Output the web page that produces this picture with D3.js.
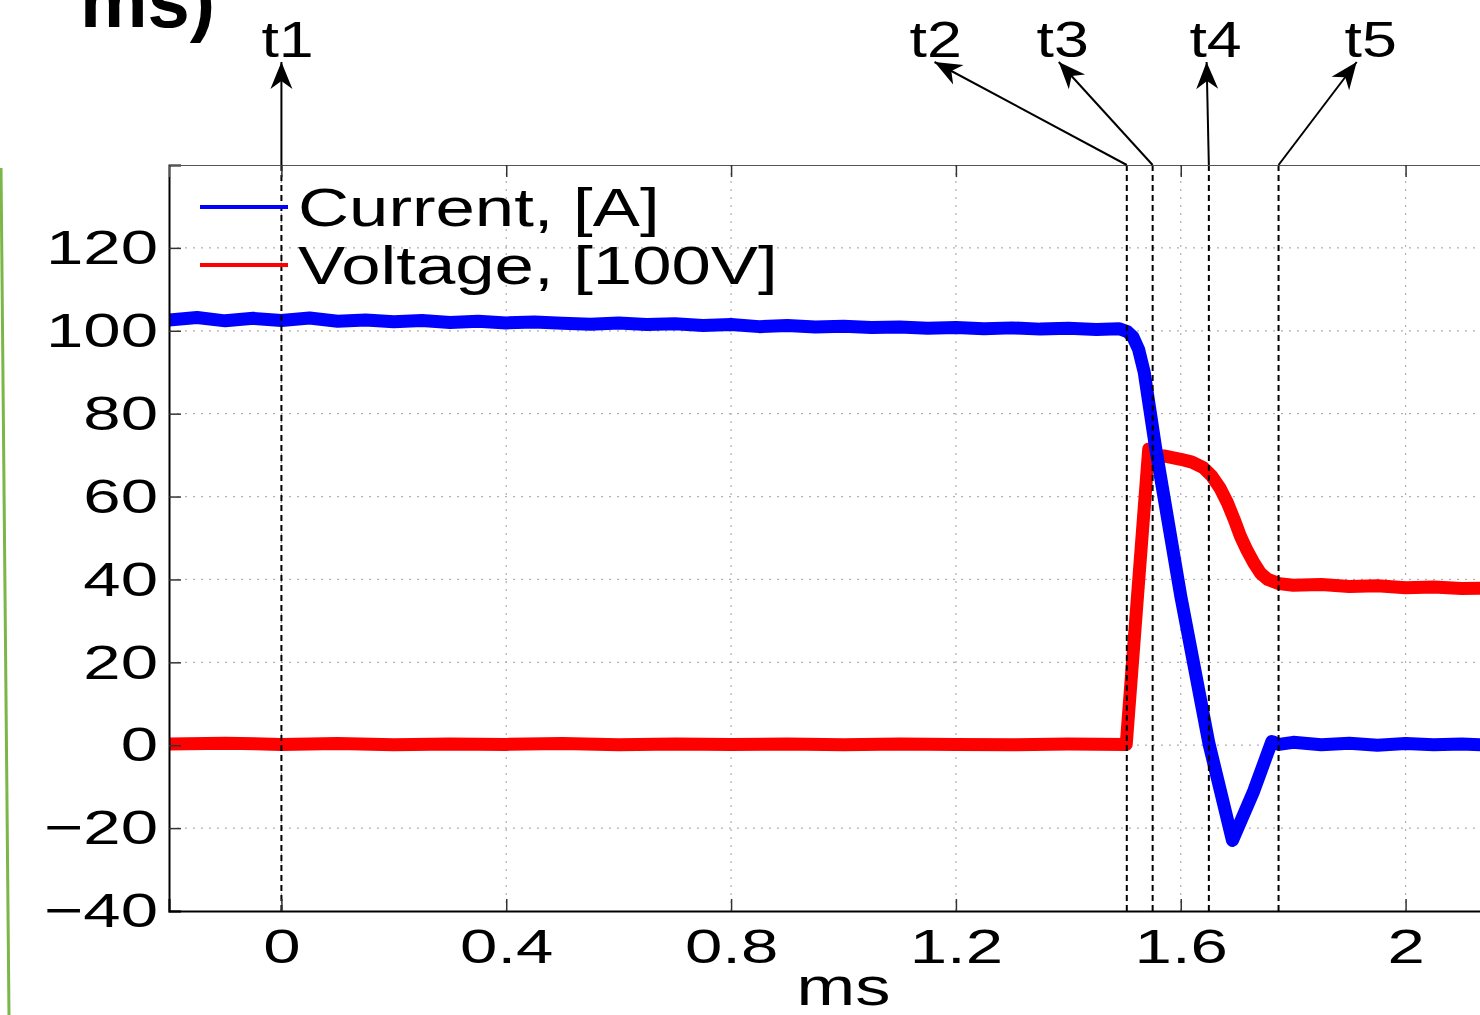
<!DOCTYPE html>
<html>
<head>
<meta charset="utf-8">
<script src="https://cdn.jsdelivr.net/npm/d3@7"></script>
<style>
  body { margin: 0; background: #fff; }
  svg { display: block; }
  text { font-family: "Liberation Sans", Arial, sans-serif; fill: #000; }
</style>
</head>
<body>
<svg id="chart" width="1480" height="1015"></svg>
<script>
// Data (time in ms)
const currentT = [-0.2, -0.15, -0.1, -0.05, 0, 0.05, 0.1, 0.15, 0.2, 0.25, 0.3, 0.35, 0.4, 0.45, 0.5, 0.55, 0.6, 0.65, 0.7, 0.75, 0.8, 0.85, 0.9, 0.95, 1.0, 1.05, 1.1, 1.15, 1.2, 1.25, 1.3, 1.35, 1.4, 1.45, 1.49, 1.505, 1.515, 1.525, 1.535, 1.545, 1.555, 1.6, 1.65, 1.692, 1.73, 1.762, 1.775, 1.8, 1.85, 1.9, 1.95, 2.0, 2.05, 2.1, 2.15, 2.2];
const currentV = [102.6, 103.2, 102.4, 103.0, 102.5, 103.1, 102.3, 102.6, 102.2, 102.5, 102.0, 102.3, 101.9, 102.1, 101.8, 101.6, 101.9, 101.5, 101.7, 101.3, 101.5, 101.0, 101.3, 100.9, 101.1, 100.8, 100.9, 100.6, 100.8, 100.5, 100.7, 100.4, 100.6, 100.3, 100.5, 99.8, 98.5, 95.5, 90, 81, 72, 36, 0.5, -23, -11, 0.9, 0.2, 0.7, 0.1, 0.5, 0.0, 0.4, 0.1, 0.3, 0.0, 0.2];

const voltageT = [-0.2, -0.1, 0, 0.1, 0.2, 0.3, 0.4, 0.5, 0.6, 0.7, 0.8, 0.9, 1.0, 1.1, 1.2, 1.3, 1.4, 1.503, 1.543, 1.55, 1.57, 1.6, 1.62, 1.64, 1.655, 1.67, 1.683, 1.695, 1.706, 1.718, 1.73, 1.742, 1.755, 1.775, 1.8, 1.85, 1.9, 1.95, 2.0, 2.05, 2.1, 2.15, 2.2];
const voltageV = [0.3, 0.5, 0.2, 0.4, 0.1, 0.3, 0.2, 0.4, 0.1, 0.3, 0.2, 0.3, 0.1, 0.3, 0.2, 0.1, 0.3, 0.2, 71.5, 69.5, 69.8, 69.0, 68.3, 67.0, 65.0, 62.0, 58.5, 54.5, 50.5, 47.0, 44.0, 41.5, 40.0, 39.0, 38.6, 38.8, 38.3, 38.5, 38.0, 38.2, 37.8, 37.9, 37.5];

const seriesNames = ['Current, [A]', 'Voltage, [100V]'];
const seriesColors = ['#0000ff', '#ff0000'];

const xTicks = [0, 0.4, 0.8, 1.2, 1.6, 2];
const yTicks = [-40, -20, 0, 20, 40, 60, 80, 100, 120];

// Marker times and where their labels sit (ms)
const markNames = ['t1', 't2', 't3', 't4', 't5'];
const markTimes = [0, 1.504, 1.55, 1.65, 1.774];
const tipTimes = [0, 1.162, 1.383, 1.646, 1.913];
const labelTimes = [0.011, 1.164, 1.39, 1.662, 1.938];

const svg = d3.select('#chart');
const plotLeft = 169, plotTop = 165, plotBottom = 911, plotRight = 1518;
const sx = 1.28;     // text looks stretched horizontally
const sxTick = 1.37;

const x = d3.scaleLinear().domain([-0.2, 2.2]).range([plotLeft, plotRight]);
const y = d3.scaleLinear().domain([-40, 140]).range([plotBottom, plotTop]);

// green edge line at far left
svg.append('line')
  .attr('x1', 1).attr('y1', 168).attr('x2', 9).attr('y2', 1015)
  .attr('stroke', '#7ab648').attr('stroke-width', 3);

// cut-off bold text at the very top
svg.append('text')
  .attr('x', 80).attr('y', 27)
  .attr('font-size', 76).attr('font-weight', 'bold')
  .text('ms)');

// grid
const grid = svg.append('g')
  .attr('stroke', '#b0b0b0').attr('stroke-width', 1.2).attr('stroke-dasharray', '2,6');
grid.selectAll('.gx').data(xTicks).join('line')
  .attr('x1', d => x(d)).attr('x2', d => x(d)).attr('y1', plotTop).attr('y2', plotBottom);
grid.selectAll('.gy').data(yTicks.filter(d => d > -40)).join('line')
  .attr('x1', plotLeft).attr('x2', plotRight).attr('y1', d => y(d)).attr('y2', d => y(d));

// data lines
svg.append('clipPath').attr('id', 'clip')
  .append('rect').attr('x', plotLeft).attr('y', plotTop)
  .attr('width', plotRight - plotLeft).attr('height', plotBottom - plotTop);

const line = d3.line().x(d => x(d[0])).y(d => y(d[1]));
const plot = svg.append('g').attr('clip-path', 'url(#clip)');

plot.append('path')
  .datum(d3.zip(voltageT, voltageV))
  .attr('d', line)
  .attr('fill', 'none').attr('stroke', seriesColors[1])
  .attr('stroke-width', 13).attr('stroke-linejoin', 'round');
plot.append('path')
  .datum(d3.zip(currentT, currentV))
  .attr('d', line)
  .attr('fill', 'none').attr('stroke', seriesColors[0])
  .attr('stroke-width', 13).attr('stroke-linejoin', 'round');

// dashed marker lines
svg.selectAll('.mark').data(markTimes).join('line')
  .attr('x1', d => x(d)).attr('x2', d => x(d)).attr('y1', plotTop).attr('y2', plotBottom)
  .attr('stroke', '#000').attr('stroke-width', 2).attr('stroke-dasharray', '6,4');

// axes
const fontTick = 49;
const yAxis = svg.append('g')
  .attr('transform', `translate(${plotLeft},0)`)
  .call(d3.axisLeft(y).tickValues(yTicks).tickSize(-12).tickPadding(11).tickFormat(d3.format('d')));
yAxis.selectAll('text')
  .attr('x', null)
  .attr('font-size', fontTick)
  .attr('transform', `translate(-11,0) scale(${sxTick},1)`);

const xAxis = svg.append('g')
  .attr('transform', `translate(0,${plotBottom})`)
  .call(d3.axisBottom(x).tickValues(xTicks).tickSize(-12).tickPadding(0).tickFormat(d => String(d)));
xAxis.selectAll('text')
  .attr('y', null).attr('dy', null)
  .attr('font-size', fontTick)
  .attr('transform', `translate(0,52) scale(${sxTick},1)`);

const topAxis = svg.append('g')
  .attr('transform', `translate(0,${plotTop})`)
  .call(d3.axisTop(x).tickValues(xTicks).tickSize(-12).tickFormat(''));
topAxis.select('.domain').attr('stroke', '#555');

[yAxis, xAxis].forEach(g => {
  g.select('.domain').attr('stroke', '#000').attr('stroke-width', 2);
});
svg.selectAll('.tick line').attr('stroke', '#333').attr('stroke-width', 1.5);

// axis label
svg.append('text')
  .attr('text-anchor', 'middle')
  .attr('font-size', 51)
  .attr('transform', `translate(${x(1.0)},1005) scale(1.38,1)`)
  .text('ms');

// legend
const legend = svg.append('g');
seriesNames.forEach((name, i) => {
  const ly = 207 + i * 58;
  legend.append('line')
    .attr('x1', 200).attr('x2', 288).attr('y1', ly).attr('y2', ly)
    .attr('stroke', seriesColors[i]).attr('stroke-width', 4);
  legend.append('text')
    .attr('font-size', 54)
    .attr('dy', '0.35em')
    .attr('transform', `translate(298,${ly}) scale(1.31,1)`)
    .text(name);
});

// arrows to marker labels
svg.append('defs').append('marker')
  .attr('id', 'arrow')
  .attr('markerUnits', 'userSpaceOnUse')
  .attr('viewBox', '-28 -12 30 24')
  .attr('refX', 0).attr('refY', 0)
  .attr('markerWidth', 30).attr('markerHeight', 24)
  .attr('orient', 'auto')
  .append('path')
  .attr('d', 'M0,0 L-27,-11 L-19,0 L-27,11 Z')
  .attr('fill', '#000');

markTimes.forEach((t, i) => {
  svg.append('line')
    .attr('x1', x(t)).attr('y1', plotTop)
    .attr('x2', x(tipTimes[i])).attr('y2', 62)
    .attr('stroke', '#000').attr('stroke-width', 2)
    .attr('marker-end', 'url(#arrow)');
  svg.append('text')
    .attr('text-anchor', 'middle')
    .attr('font-size', 49)
    .attr('transform', `translate(${x(labelTimes[i])},57) scale(${sx},1)`)
    .text(markNames[i]);
});
</script>
</body>
</html>
